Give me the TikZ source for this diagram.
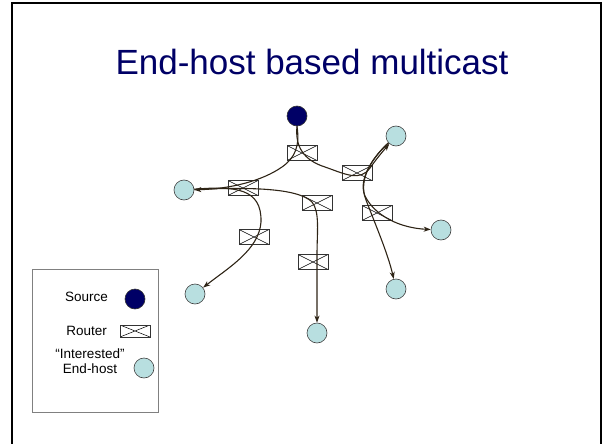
\documentclass[tikz,border=0pt]{standalone}
\usepackage{fontspec}
\setmainfont{Liberation Sans}
\usetikzlibrary{arrows.meta}
\definecolor{navy}{HTML}{000066}
\definecolor{hostfill}{HTML}{B8DFE0}
\definecolor{flowc}{HTML}{2E2416}
\tikzset{
  host/.style={circle, draw=black!75, line width=0.6pt, fill=hostfill, minimum size=20pt, inner sep=0pt},
  srcnode/.style={circle, draw=black!80, line width=0.6pt, fill=navy, minimum size=20pt, inner sep=0pt},
  router/.style={rectangle, draw=black!80, line width=0.7pt, fill=white, minimum width=30pt, minimum height=15pt, inner sep=0pt,
    path picture={\draw[black, line width=0.5pt] (path picture bounding box.north west) -- (path picture bounding box.south east)
      (path picture bounding box.south west) -- (path picture bounding box.north east);}},
  flow/.style={draw=flowc, line width=1.1pt, -{Stealth[length=7pt,width=5pt,inset=2pt]}},
  legtext/.style={font=\fontsize{13.5}{15}\selectfont, inner sep=0pt}
}
\begin{document}
\begin{tikzpicture}[x=1pt,y=-1pt]
\useasboundingbox (0,0) rectangle (602,444);
% slide frame
\draw[line width=2.5pt, black] (12,450) -- (12,3) -- (601,3) -- (601,450);
% title
\node[text=navy, font=\fontsize{35}{40}\selectfont, inner sep=0pt] (title) at (312,62) {End-host based multicast};
% hosts
\node[srcnode] (src) at (297,116) {};
\node[host] (hTR) at (396,136) {};
\node[host] (hL) at (184,190) {};
\node[host] (hR) at (441,230) {};
\node[host] (hLR) at (396,289) {};
\node[host] (hB) at (317,333) {};
\node[host] (hLL) at (195,294) {};
% routers
\node[router] (r1) at (302,153) {};
\node[router] (r2) at (243,188) {};
\node[router] (r3) at (357,173) {};
\node[router] (r4) at (317,203) {};
\node[router] (r5) at (377,213) {};
\node[router] (r6) at (254,237) {};
\node[router] (r7) at (313,262) {};
% flows
\draw[flow] (src.south) .. controls (300,146) and (295,158) .. (282,167) .. controls (262,181) and (230,189) .. (hL);
\draw[flow] (src.south) .. controls (295,146) and (303,160) .. (325,167) .. controls (345,174) and (360,182) .. (370,168) .. controls (377,158) and (384,150) .. (hTR);
\draw[flow] (hL) .. controls (235,186) and (262,188) .. (261,222) .. controls (259,250) and (228,268) .. (hLL);
\draw[flow] (hL) .. controls (250,187) and (298,188) .. (312,202) .. controls (320,212) and (317,232) .. (317,255) -- (hB);
\draw[flow] (hTR) .. controls (372,158) and (358,180) .. (365,196) .. controls (375,216) and (400,228) .. (hR);
\draw[flow] (hTR) .. controls (375,155) and (357,178) .. (366,200) .. controls (376,226) and (388,254) .. (hLR);
% legend
\draw[draw=black!50, line width=1pt] (32,269) rectangle (158,412);
\node[legtext, anchor=east] (lsrc) at (108,297) {Source};
\node[srcnode] (lsrcicon) at (135,299) {};
\node[legtext, anchor=east] (lrt) at (107,331) {Router};
\node[router, minimum height=12pt] (lrticon) at (135,331) {};
\node[legtext, align=center] (lhost) at (90,361) {“Interested”\\End-host};
\node[host] (lhosticon) at (144,368) {};
\end{tikzpicture}
\end{document}
